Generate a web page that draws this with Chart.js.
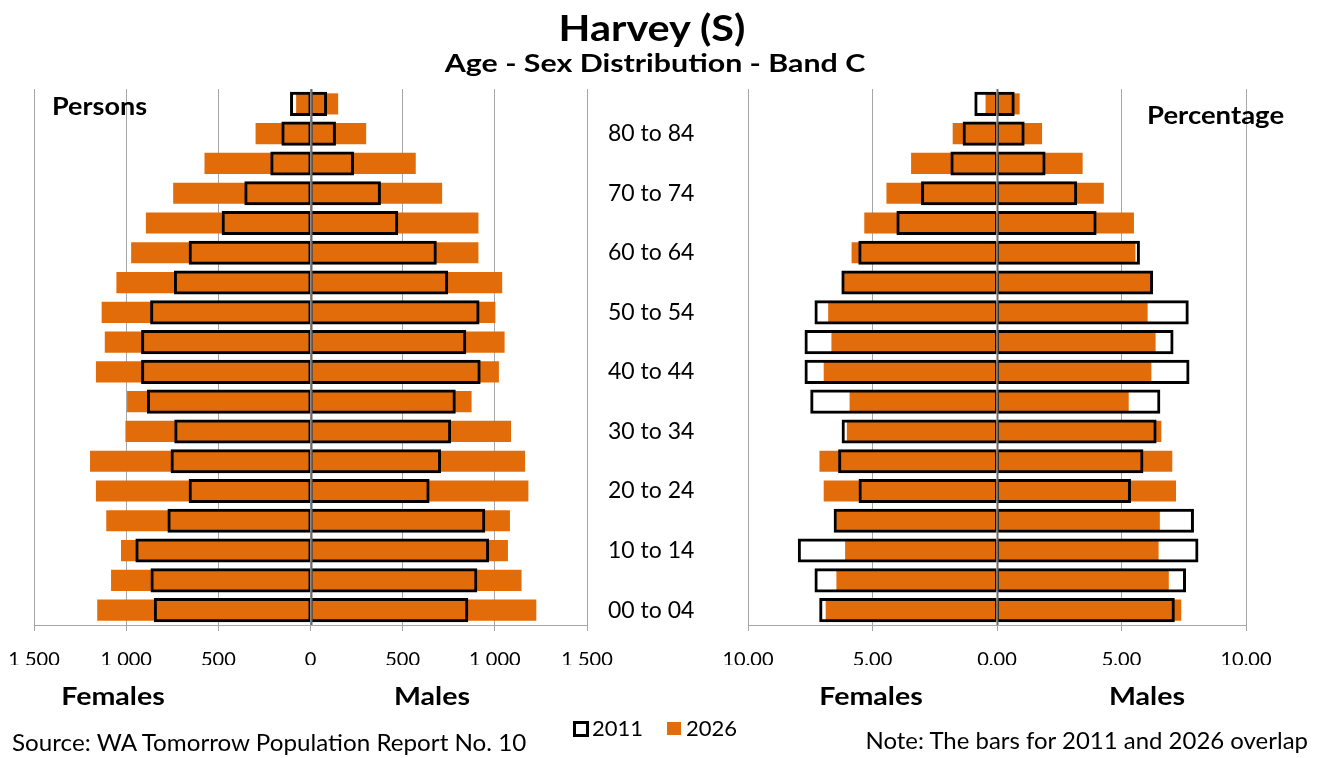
<!DOCTYPE html>
<html>
<head>
<meta charset="utf-8">
<title>Harvey (S) – Age - Sex Distribution</title>
<script src="https://cdn.jsdelivr.net/npm/chart.js@4/dist/chart.umd.min.js"></script>
<style>
  html, body { margin: 0; padding: 0; background: #fff; }
  body { width: 1318px; height: 758px; position: relative; overflow: hidden; font-family: Lato, "Open Sans", sans-serif; color: #000; }
  canvas { position: absolute; left: 0; top: 0; }
  .t { position: absolute; white-space: nowrap; line-height: 1; }
  .c { transform: translate(-50%, -50%) scaleX(var(--sx, 1)); }
  .l { transform-origin: 0 50%; transform: translate(0, -50%) scaleX(var(--sx, 1)); }
  .r { transform-origin: 100% 50%; transform: translate(-100%, -50%) scaleX(var(--sx, 1)); }
  .b { font-weight: bold; }
  .key { position: absolute; box-sizing: border-box; }
</style>
</head>
<body>
<canvas id="persons" width="1318" height="758"></canvas>
<canvas id="percent" width="1318" height="758"></canvas>

<div class="t c b" style="left:652px; top:27px; font-size:36px; --sx:1.15;">Harvey (S)</div>
<div class="t c b" style="left:655px; top:63px; font-size:25.5px; --sx:1.19;">Age - Sex Distribution - Band C</div>
<div class="t l b" style="left:52px; top:105px; font-size:25px; --sx:1.08;">Persons</div>
<div class="t l b" style="left:1147px; top:114px; font-size:25px; --sx:1.1;">Percentage</div>
<div class="t c b" style="left:113px; top:696px; font-size:25.5px; --sx:1.12;">Females</div>
<div class="t c b" style="left:432px; top:696px; font-size:25.5px; --sx:1.12;">Males</div>
<div class="t c b" style="left:871px; top:696px; font-size:25.5px; --sx:1.12;">Females</div>
<div class="t c b" style="left:1147px; top:696px; font-size:25.5px; --sx:1.12;">Males</div>

<div class="key" style="left:573px; top:721px; width:16px; height:16px; border:3px solid #000; background:#fff;"></div>
<div class="t l" style="left:592px; top:728px; font-size:22px;">2011</div>
<div class="key" style="left:667px; top:722px; width:14px; height:13px; background:#E36C0A;"></div>
<div class="t l" style="left:686px; top:728px; font-size:22px;">2026</div>

<div class="t l" style="left:12px; top:743px; font-size:23.5px; --sx:1.03;">Source: WA Tomorrow Population Report No. 10</div>
<div class="t r" style="left:1308px; top:741px; font-size:23.5px; --sx:1.02;">Note: The bars for 2011 and 2026 overlap</div>

<script>
// Five-year age groups, youngest first
const ageGroups = ['00 to 04', '05 to 09', '10 to 14', '15 to 19', '20 to 24', '25 to 29',
  '30 to 34', '35 to 39', '40 to 44', '45 to 49', '50 to 54', '55 to 59',
  '60 to 64', '65 to 69', '70 to 74', '75 to 79', '80 to 84', '85+'];

// Persons by age group
const females2011 = [850, 868, 950, 776, 661, 759, 739, 887, 919, 919, 870, 741, 661, 482, 359, 218, 158, 111];
const females2026 = [1157, 1082, 1028, 1108, 1164, 1196, 1004, 995, 1164, 1116, 1133, 1053, 973, 893, 745, 575, 298, 78];
const males2011 = [856, 905, 969, 948, 646, 708, 763, 788, 923, 845, 917, 747, 685, 476, 382, 236, 138, 90];
const males2026 = [1225, 1145, 1071, 1082, 1182, 1164, 1088, 874, 1022, 1053, 1003, 1040, 911, 911, 714, 571, 302, 150];

// Share of total population (%) by age group
const femalesPct2011 = [7.14, 7.33, 8.00, 6.56, 5.56, 6.38, 6.24, 7.50, 7.73, 7.73, 7.33, 6.25, 5.57, 4.04, 3.05, 1.87, 1.38, 0.91];
const femalesPct2026 = [6.88, 6.45, 6.10, 6.46, 6.96, 7.13, 6.03, 5.92, 6.96, 6.65, 6.78, 6.20, 5.84, 5.33, 4.44, 3.45, 1.78, 0.46];
const malesPct2011 = [7.14, 7.59, 8.09, 7.91, 5.38, 5.88, 6.41, 6.56, 7.73, 7.09, 7.70, 6.27, 5.74, 4.00, 3.22, 1.95, 1.11, 0.71];
const malesPct2026 = [7.40, 6.90, 6.49, 6.54, 7.19, 7.04, 6.60, 5.29, 6.20, 6.37, 6.05, 6.22, 5.56, 5.50, 4.29, 3.44, 1.81, 0.91];

// Axis tick values
const personTicks = [-1500, -1000, -500, 0, 500, 1000, 1500];
const percentTicks = [-10, -5, 0, 5, 10];

const ORANGE = '#E36C0A';
const GRID = '#a6a6a6';
const FONT = 'Lato, "Open Sans", sans-serif';

// Females extend to the left of the centre line
const neg = arr => arr.map(v => -v);

// Dark centre line drawn over the bars at zero
const centreLine = {
  id: 'centreLine',
  afterDatasetsDraw(chart) {
    const { ctx, chartArea, scales } = chart;
    const x = Math.round(scales.x.getPixelForValue(0)) + 0.5;
    ctx.save();
    ctx.strokeStyle = '#6b6b6b';
    ctx.lineWidth = 2;
    ctx.beginPath();
    ctx.moveTo(x, chartArea.top);
    ctx.lineTo(x, chartArea.bottom);
    ctx.stroke();
    ctx.restore();
  }
};

function datasets(f11, f26, m11, m26) {
  const box = (data, side) => ({
    data,
    backgroundColor: 'rgba(0,0,0,0)',
    borderColor: '#000',
    borderWidth: side === 'f' ? { top: 3, bottom: 3, left: 3, right: 1.5 } : { top: 3, bottom: 3, left: 1.5, right: 3 },
    borderSkipped: false,
    barPercentage: 0.81,
    categoryPercentage: 1,
    grouped: false,
    order: 0
  });
  const fill = data => ({
    data,
    backgroundColor: ORANGE,
    borderWidth: 0,
    barPercentage: 0.71,
    categoryPercentage: 1,
    grouped: false,
    order: 1
  });
  return [
    Object.assign(box(neg(f11), 'f'), { label: 'Females 2011' }),
    Object.assign(box(m11, 'm'), { label: 'Males 2011' }),
    Object.assign(fill(neg(f26)), { label: 'Females 2026' }),
    Object.assign(fill(m26), { label: 'Males 2026' })
  ];
}

function xAxis(ticks, fmt) {
  return {
    type: 'linear',
    min: ticks[0],
    max: ticks[ticks.length - 1],
    afterBuildTicks(scale) { scale.ticks = ticks.map(v => ({ value: v })); },
    afterFit(scale) { scale.height = 40; scale.paddingLeft = 0; scale.paddingRight = 0; },
    grid: { color: GRID, lineWidth: 1, tickLength: 6, tickColor: GRID, drawTicks: true },
    border: { display: true, color: GRID, width: 1 },
    ticks: { color: '#000', font: { family: FONT, size: 20 }, padding: 17, maxRotation: 0, callback: fmt }
  };
}

const spaced = v => String(Math.abs(v)).replace(/\B(?=(\d{3})+(?!\d))/g, ' ');

Chart.defaults.animation = false;
Chart.defaults.font.family = FONT;

new Chart(document.getElementById('persons'), {
  type: 'bar',
  data: { labels: ageGroups, datasets: datasets(females2011, females2026, males2011, males2026) },
  options: {
    indexAxis: 'y',
    responsive: false,
    layout: { padding: { left: 34, right: 598, top: 89, bottom: 93 } },
    plugins: { legend: { display: false }, tooltip: { enabled: false } },
    scales: {
      x: xAxis(personTicks, v => spaced(v)),
      y: {
        type: 'category',
        position: 'right',
        reverse: true,
        afterFit(scale) { scale.width = 133; },
        grid: { display: false, drawTicks: false },
        border: { display: false },
        ticks: {
          autoSkip: false,
          padding: 21,
          color: '#000',
          font: { family: FONT, size: 23 },
          callback: (v, i) => (i % 2 === 0 ? ageGroups[i] : '')
        }
      }
    }
  },
  plugins: [centreLine]
});

new Chart(document.getElementById('percent'), {
  type: 'bar',
  data: { labels: ageGroups, datasets: datasets(femalesPct2011, femalesPct2026, malesPct2011, malesPct2026) },
  options: {
    indexAxis: 'y',
    responsive: false,
    layout: { padding: { left: 748, right: 72, top: 89, bottom: 93 } },
    plugins: { legend: { display: false }, tooltip: { enabled: false } },
    scales: {
      x: xAxis(percentTicks, v => Math.abs(v).toFixed(2)),
      y: { type: 'category', reverse: true, display: false }
    }
  },
  plugins: [centreLine]
});
</script>
</body>
</html>
